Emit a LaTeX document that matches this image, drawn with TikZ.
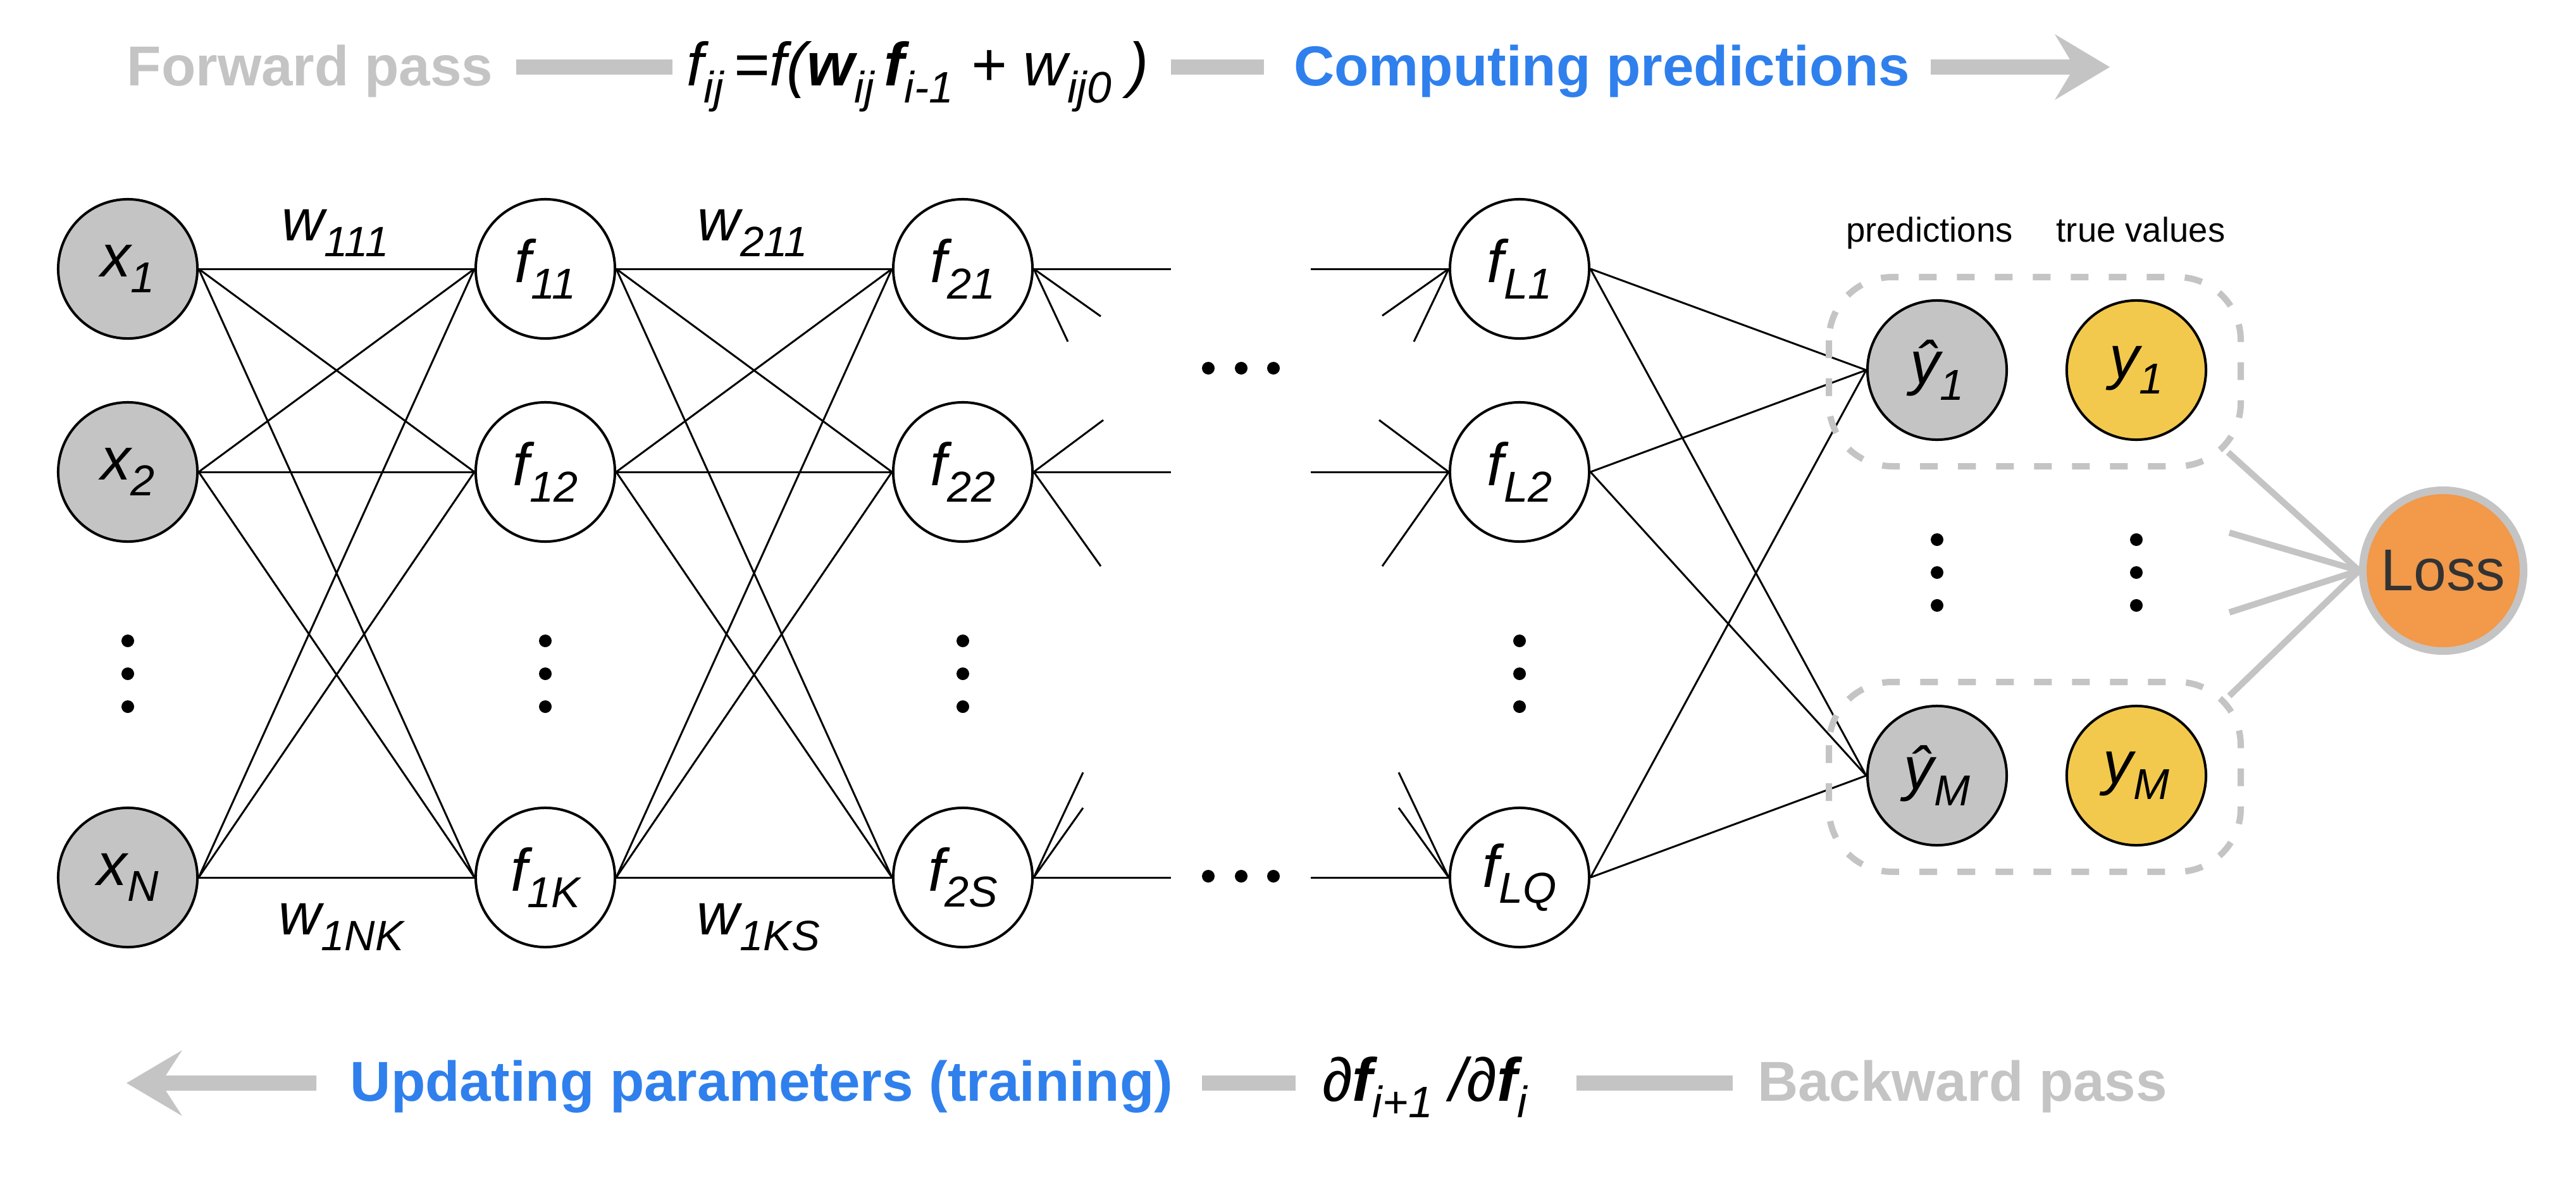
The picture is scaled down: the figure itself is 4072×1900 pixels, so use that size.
\documentclass[tikz,border=0pt]{standalone}
\usepackage{fontspec}
\setmainfont{Liberation Sans}
\usetikzlibrary{arrows.meta}
\definecolor{lgray}{HTML}{C4C4C4}
\definecolor{yel}{HTML}{F2C94C}
\definecolor{org}{HTML}{F2994A}
\definecolor{blu}{HTML}{2F80ED}
\definecolor{dgray}{HTML}{333333}
\newcommand\lo[1]{\raisebox{-0.27em}{\scalebox{0.72}{#1}}}
\begin{document}
\begin{tikzpicture}[x=0.01cm,y=-0.01cm,
  neuron/.style={circle,draw=black,line width=0.04cm,minimum size=2.2cm,inner sep=0pt,
     font=\fontsize{27}{30}\selectfont\itshape},
  inp/.style={neuron,fill=lgray},
  hid/.style={neuron,fill=white},
  pred/.style={neuron,fill=lgray},
  truev/.style={neuron,fill=yel},
  conn/.style={line width=0.03cm,draw=black},
  dotc/.style={circle,fill=black,inner sep=0pt,minimum size=0.2cm},
  barc/.style={fill=lgray},
  titletxt/.style={font=\fontsize{25.3}{30}\selectfont\bfseries,inner sep=0pt,anchor=base},
  formula/.style={font=\fontsize{27.5}{30}\selectfont\itshape,inner sep=0pt,anchor=base},
  wlabel/.style={font=\fontsize{26.5}{30}\selectfont\itshape,inner sep=0pt,anchor=base},
  smalltxt/.style={font=\fontsize{15.5}{18}\selectfont,inner sep=0pt,anchor=base},
  dashbox/.style={draw=lgray,line width=0.1cm,dash pattern=on 0.28cm off 0.32cm,rounded corners=1cm},
  lossline/.style={draw=lgray,line width=0.1cm},
]
\useasboundingbox (0,0) rectangle (4072,1900);
\fill[white] (0,0) rectangle (4072,1900);

% ---------- top line ----------
\node[titletxt,text=lgray] (fwd) at (490,136) {Forward pass};
\fill[barc] (816,94) rectangle (1063,118);
\node[formula] (fform) at (1451,136) {f\lo{ij}\,=f(\textbf{w}\lo{ij}\,\textbf{f}\lo{i-1} + w\lo{ij0} )};
\fill[barc] (1851,94) rectangle (1998,118);
\node[titletxt,text=blu] (comp) at (2532,136) {Computing predictions};
\fill[barc] (3052,94) -- (3272,94) -- (3248,54) -- (3335,106) -- (3248,158) -- (3272,118) -- (3052,118) -- cycle;

% ---------- bottom line ----------
\fill[barc] (500,1700) -- (262,1700) -- (288,1660) -- (200,1712) -- (288,1764) -- (262,1724) -- (500,1724) -- cycle;
\node[titletxt,text=blu] (upd) at (1204,1740) {Updating parameters (training)};
\fill[barc] (1900,1700) rectangle (2048,1724);
\node[formula] (bform) at (2252,1740) {∂\textbf{f}\lo{i+1} /∂\textbf{f}\lo{i}};
\fill[barc] (2492,1700) rectangle (2739,1724);
\node[titletxt,text=lgray] (bwd) at (3102,1740) {Backward pass};

% ---------- nodes ----------
\node[inp] (x1) at (202,425) {x\lo{1}};
\node[inp] (x2) at (202,746) {x\lo{2}};
\node[inp] (xN) at (202,1387) {x\lo{N}};

\node[hid] (f11) at (862,425) {f\lo{11}};
\node[hid] (f12) at (862,746) {f\lo{12}};
\node[hid] (f1K) at (862,1387) {f\lo{1K}};

\node[hid] (f21) at (1522,425) {f\lo{21}};
\node[hid] (f22) at (1522,746) {f\lo{22}};
\node[hid] (f2S) at (1522,1387) {f\lo{2S}};

\node[hid] (fL1) at (2402,425) {f\lo{L1}};
\node[hid] (fL2) at (2402,746) {f\lo{L2}};
\node[hid] (fLQ) at (2402,1387) {f\lo{LQ}};

\node[pred] (yh1) at (3062,585) {ŷ\lo{1}};
\node[pred] (yhM) at (3062,1226) {ŷ\lo{M}};
\node[truev] (y1) at (3377,585) {y\lo{1}};
\node[truev] (yM) at (3377,1226) {y\lo{M}};

\node[circle,draw=lgray,line width=0.12cm,fill=org,minimum size=2.54cm,inner sep=0pt,
      text=dgray,font=\fontsize{26.5}{30}\selectfont] (loss) at (3862,902) {Loss};

% ---------- vertical dots ----------
\foreach \c/\xx in {a/202,b/862,c/1522,d/2402}{
  \foreach \r/\yy in {1/1013,2/1065,3/1117}{
    \node[dotc] (vd\c\r) at (\xx,\yy) {};
  }
}
\foreach \c/\xx in {e/3062,f/3377}{
  \foreach \r/\yy in {1/853,2/905,3/957}{
    \node[dotc] (vd\c\r) at (\xx,\yy) {};
  }
}
% ---------- horizontal dots ----------
\foreach \r/\yy in {t/582,b/1385}{
  \foreach \k/\xx in {1/1910,2/1962,3/2013}{
    \node[dotc] (hd\r\k) at (\xx,\yy) {};
  }
}

% ---------- weight labels ----------
\node[wlabel] (w111) at (530,380) {w\lo{111}};
\node[wlabel] (w211) at (1190,380) {w\lo{211}};
\node[wlabel] (w1NK) at (539,1477) {w\lo{1NK}};
\node[wlabel] (w1KS) at (1199,1477) {w\lo{1KS}};

% ---------- column labels ----------
\node[smalltxt] (plab) at (3050,383) {predictions};
\node[smalltxt] (tlab) at (3384,383) {true values};

% ---------- dense connections ----------
\foreach \a in {x1,x2,xN}{
  \foreach \b in {f11,f12,f1K}{
    \draw[conn] (\a.east) -- (\b.west);
  }
}
\foreach \a in {f11,f12,f1K}{
  \foreach \b in {f21,f22,f2S}{
    \draw[conn] (\a.east) -- (\b.west);
  }
}
\foreach \a in {fL1,fL2,fLQ}{
  \foreach \b in {yh1,yhM}{
    \draw[conn] (\a.east) -- (\b.west);
  }
}

% ---------- stubs from layer 2 ----------
\coordinate (s21a) at (1851,425);
\coordinate (s21b) at (1740,500);
\coordinate (s21c) at (1688,540);
\coordinate (s22a) at (1744,664);
\coordinate (s22b) at (1851,746);
\coordinate (s22c) at (1740,895);
\coordinate (s2Sa) at (1712,1221);
\coordinate (s2Sb) at (1712,1277);
\coordinate (s2Sc) at (1851,1387);
\foreach \t in {s21a,s21b,s21c}{\draw[conn] (f21.east) -- (\t);}
\foreach \t in {s22a,s22b,s22c}{\draw[conn] (f22.east) -- (\t);}
\foreach \t in {s2Sa,s2Sb,s2Sc}{\draw[conn] (f2S.east) -- (\t);}

% ---------- stubs into layer L ----------
\coordinate (sL1a) at (2072,425);
\coordinate (sL1b) at (2185,499);
\coordinate (sL1c) at (2235,540);
\coordinate (sL2a) at (2180,664);
\coordinate (sL2b) at (2072,746);
\coordinate (sL2c) at (2185,895);
\coordinate (sLQa) at (2211,1221);
\coordinate (sLQb) at (2211,1277);
\coordinate (sLQc) at (2072,1387);
\foreach \t in {sL1a,sL1b,sL1c}{\draw[conn] (\t) -- (fL1.west);}
\foreach \t in {sL2a,sL2b,sL2c}{\draw[conn] (\t) -- (fL2.west);}
\foreach \t in {sLQa,sLQb,sLQc}{\draw[conn] (\t) -- (fLQ.west);}

% ---------- dashed groups ----------
\draw[dashbox] (2891,438) rectangle (3542,737);
\draw[dashbox] (2891,1078) rectangle (3542,1378);

% ---------- lines to loss ----------
\coordinate (l1) at (3522,715);
\coordinate (l2) at (3524,842);
\coordinate (l3) at (3524,968);
\coordinate (l4) at (3524,1100);
\foreach \t in {l1,l2,l3,l4}{\draw[lossline] (\t) -- (loss.west);}
\end{tikzpicture}
\end{document}
